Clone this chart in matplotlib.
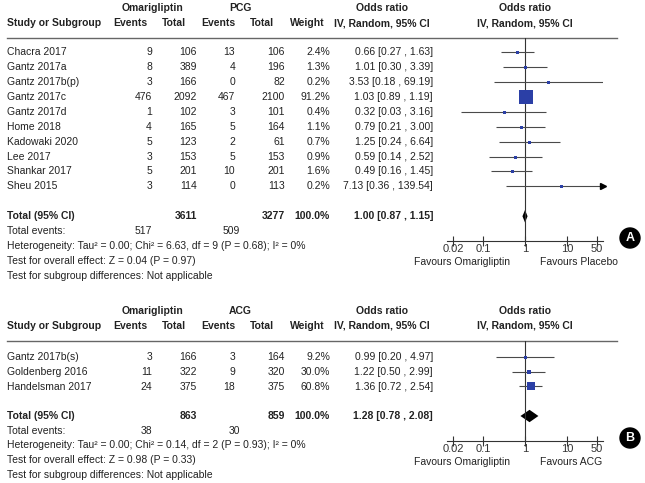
# Forest plots: omarigliptin vs placebo (A) and vs active comparator (B)
import matplotlib.pyplot as plt
from matplotlib.patches import Circle

plt.rcParams['font.family'] = ['Liberation Sans', 'DejaVu Sans']

# Panel A data
studies_a = ["Chacra 2017", "Gantz 2017a", "Gantz 2017b(p)", "Gantz 2017c", "Gantz 2017d",
             "Home 2018", "Kadowaki 2020", "Lee 2017", "Shankar 2017", "Sheu 2015"]
ev1_a = [9, 8, 3, 476, 1, 4, 5, 3, 5, 3]
tot1_a = [106, 389, 166, 2092, 102, 165, 123, 153, 201, 114]
ev2_a = [13, 4, 0, 467, 3, 5, 2, 5, 10, 0]
tot2_a = [106, 196, 82, 2100, 101, 164, 61, 153, 201, 113]
weight_a = [2.4, 1.3, 0.2, 91.2, 0.4, 1.1, 0.7, 0.9, 1.6, 0.2]
or_a = [0.66, 1.01, 3.53, 1.03, 0.32, 0.79, 1.25, 0.59, 0.49, 7.13]
lo_a = [0.27, 0.30, 0.18, 0.89, 0.03, 0.21, 0.24, 0.14, 0.16, 0.36]
hi_a = [1.63, 3.39, 69.19, 1.19, 3.16, 3.00, 6.64, 2.52, 1.45, 139.54]
total_a = dict(n1=3611, n2=3277, e1=517, e2=509, est=1.00, lo=0.87, hi=1.15,
               het="Heterogeneity: Tau² = 0.00; Chi² = 6.63, df = 9 (P = 0.68); I² = 0%",
               z="Test for overall effect: Z = 0.04 (P = 0.97)")

# Panel B data
studies_b = ["Gantz 2017b(s)", "Goldenberg 2016", "Handelsman 2017"]
ev1_b = [3, 11, 24]
tot1_b = [166, 322, 375]
ev2_b = [3, 9, 18]
tot2_b = [164, 320, 375]
weight_b = [9.2, 30.0, 60.8]
or_b = [0.99, 1.22, 1.36]
lo_b = [0.20, 0.50, 0.72]
hi_b = [4.97, 2.99, 2.54]
total_b = dict(n1=863, n2=859, e1=38, e2=30, est=1.28, lo=0.78, hi=2.08,
               het="Heterogeneity: Tau² = 0.00; Chi² = 0.14, df = 2 (P = 0.93); I² = 0%",
               z="Test for overall effect: Z = 0.98 (P = 0.33)")

W, H = 645, 483
fig = plt.figure(figsize=(W / 100, H / 100), dpi=100)
bg = fig.add_axes([0, 0, 1, 1])
bg.set_xlim(0, W)
bg.set_ylim(H, 0)
bg.axis('off')

TXT = '#222222'
FS = 7.5
XMIN, XMAX = 10 ** -1.85, 10 ** 1.85


def panel(top, row0, step, axis_y, studies, ev1, tot1, ev2, tot2, weight, orr, lo, hi,
          tot, comp, favour, letter):
    def ry(i):
        return row0 + step * i

    # headers
    hb = dict(fontsize=FS, fontweight='bold', color=TXT, va='center')
    bg.text(153, top - 30, "Omarigliptin", ha='center', **hb)
    bg.text(240, top - 30, comp, ha='center', **hb)
    bg.text(382, top - 30, "Odds ratio", ha='center', **hb)
    bg.text(525, top - 30, "Odds ratio", ha='center', **hb)
    bg.text(7, top - 15, "Study or Subgroup", ha='left', **hb)
    bg.text(147, top - 15, "Events", ha='right', **hb)
    bg.text(186, top - 15, "Total", ha='right', **hb)
    bg.text(235, top - 15, "Events", ha='right', **hb)
    bg.text(274, top - 15, "Total", ha='right', **hb)
    bg.text(325, top - 15, "Weight", ha='right', **hb)
    bg.text(382, top - 15, "IV, Random, 95% CI", ha='center', **hb)
    bg.text(525, top - 15, "IV, Random, 95% CI", ha='center', **hb)
    bg.plot([7, 617], [top, top], color='#666666', lw=1.0)

    nt = dict(fontsize=FS, color=TXT, va='center')
    for i, s in enumerate(studies):
        y = ry(i)
        bg.text(7, y, s, ha='left', **nt)
        bg.text(152, y, str(ev1[i]), ha='right', **nt)
        bg.text(197, y, str(tot1[i]), ha='right', **nt)
        bg.text(235, y, str(ev2[i]), ha='right', **nt)
        bg.text(285, y, str(tot2[i]), ha='right', **nt)
        bg.text(330, y, f"{weight[i]:.1f}%", ha='right', **nt)
        bg.text(433, y, f"{orr[i]:.2f} [{lo[i]:.2f} , {hi[i]:.2f}]", ha='right', **nt)

    k = len(studies) + 1
    bt = dict(fontsize=FS, color=TXT, va='center', fontweight='bold')
    bg.text(7, ry(k), "Total (95% CI)", ha='left', **bt)
    bg.text(197, ry(k), str(tot['n1']), ha='right', **bt)
    bg.text(285, ry(k), str(tot['n2']), ha='right', **bt)
    bg.text(330, ry(k), "100.0%", ha='right', **bt)
    bg.text(433, ry(k), f"{tot['est']:.2f} [{tot['lo']:.2f} , {tot['hi']:.2f}]", ha='right', **bt)
    bg.text(7, ry(k + 1), "Total events:", ha='left', **nt)
    bg.text(152, ry(k + 1), str(tot['e1']), ha='right', **nt)
    bg.text(240, ry(k + 1), str(tot['e2']), ha='right', **nt)
    bg.text(7, ry(k + 2), tot['het'], ha='left', **nt)
    bg.text(7, ry(k + 3), tot['z'], ha='left', **nt)
    bg.text(7, ry(k + 4), "Test for subgroup differences: Not applicable", ha='left', **nt)

    # forest axes
    x0, x1 = 447, 603
    ax = fig.add_axes([x0 / W, 1 - axis_y / H, (x1 - x0) / W, (axis_y - top) / H])
    ax.set_xscale('log')
    ax.set_xlim(XMIN, XMAX)
    ax.set_ylim((axis_y - row0) / step, (top - row0) / step)
    ax.patch.set_alpha(0)
    for sp in ['top', 'left', 'right']:
        ax.spines[sp].set_visible(False)
    ax.spines['bottom'].set_color('#333333')
    ax.spines['bottom'].set_linewidth(0.8)
    ax.set_yticks([])
    ax.set_xticks([0.02, 0.1, 1, 10, 50])
    ax.set_xticklabels(['0.02', '0.1', '1', '10', '50'])
    ax.minorticks_off()
    ax.tick_params(axis='x', direction='inout', length=7, width=0.8, color='#333333',
                   labelsize=8, labelcolor='#333333', pad=-1)
    ax.axvline(1, color='#333333', lw=0.8)

    for i in range(len(studies)):
        h = min(hi[i], XMAX)
        l = max(lo[i], XMIN)
        ax.plot([l, h], [i, i], color='#4a4a4a', lw=0.8, solid_capstyle='butt')
        if hi[i] > XMAX:
            ax.plot([XMAX], [i], marker='>', color='black', markersize=4, clip_on=False)
        side = max(3.0, 0.143 * weight[i]) * 0.72
        ax.plot([orr[i]], [i], marker='s', color='#2B3FA6', markersize=side, mew=0)

    dh = 0.42
    ax.fill([tot['lo'], tot['est'], tot['hi'], tot['est']], [k, k - dh, k, k + dh],
            color='black', lw=0)

    fy = axis_y + 21
    bg.text(510, fy, "Favours Omarigliptin", ha='right', **nt)
    bg.text(540, fy, favour, ha='left', **nt)

    bg.add_patch(Circle((630, axis_y - 3), 10, color='black'))
    bg.text(630, axis_y - 3, letter, color='white', fontsize=9, fontweight='bold',
            ha='center', va='center')


panel(38, 52, 14.93, 241, studies_a, ev1_a, tot1_a, ev2_a, tot2_a, weight_a,
      or_a, lo_a, hi_a, total_a, "PCG", "Favours Placebo", "A")
panel(341, 357, 14.75, 441, studies_b, ev1_b, tot1_b, ev2_b, tot2_b, weight_b,
      or_b, lo_b, hi_b, total_b, "ACG", "Favours ACG", "B")

fig.savefig("out.png", dpi=100)
